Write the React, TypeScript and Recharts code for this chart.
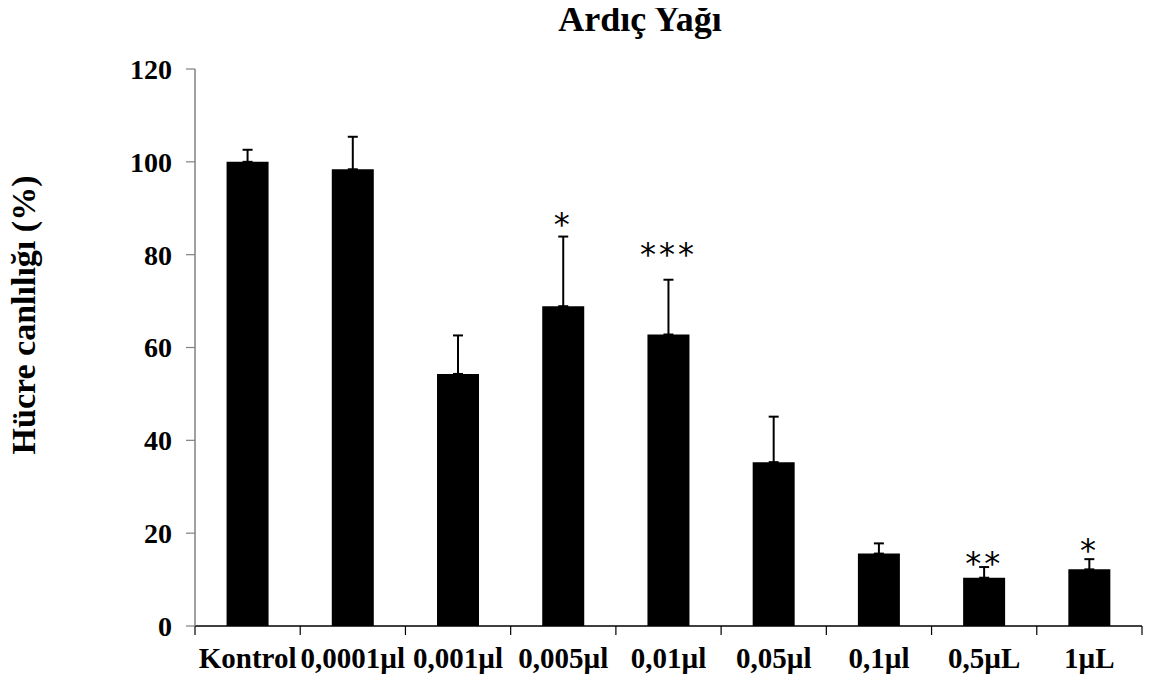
import React from 'react';
import { ComposedChart, Bar, XAxis, YAxis, ErrorBar, Scatter } from 'recharts';

// Dose groups, mean viability (%) and upper SD
const doses = ['Kontrol', '0,0001µl', '0,001µl', '0,005µl', '0,01µl', '0,05µl', '0,1µl', '0,5µL', '1µL'];
const viability = [100, 98.4, 54.3, 68.9, 62.8, 35.3, 15.6, 10.4, 12.2];
const sd = [2.6, 7.0, 8.3, 15.0, 11.8, 9.8, 2.2, 2.3, 2.2];
// Significance marks and the level they are printed at
const marks = ['', '', '', '*', '***', '', '', '**', '*'];
const markLevel = [null, null, null, 88.2, 81.7, null, null, 15.1, 17.9];
const yTicks = [0, 20, 40, 60, 80, 100, 120];
const edgeTicks = [0, 1, 2, 3, 4, 5, 6, 7, 8, 9];

const rows = doses.map((dose, i) => ({
  dose,
  value: viability[i],
  err: [0, sd[i]],
  pos: i + 0.5,
  mark: marks[i],
  level: markLevel[i],
}));
const markRows = rows.filter((r) => r.mark !== '');

const SERIF = '"Liberation Serif", "Times New Roman", serif';
const W = 1143;
const H = 674;

const DoseTick = (props: any) => (
  <text
    x={props.x}
    y={props.y + 41}
    textAnchor="middle"
    fontFamily={SERIF}
    fontWeight="bold"
    fontSize={29}
    fill="#000"
  >
    {props.payload.value}
  </text>
);

const NoLabel = () => <g />;

const STAR_SIZE = 32;
const StarMark = (props: any) => {
  const { cx, cy, payload } = props;
  if (cx == null || cy == null) return null;
  return (
    <text
      x={cx}
      y={cy + STAR_SIZE * 0.56}
      textAnchor="middle"
      fontFamily='"DejaVu Sans", sans-serif'
      fontSize={STAR_SIZE}
      letterSpacing={3}
      fill="#000"
    >
      {payload.mark}
    </text>
  );
};

export default function App() {
  return (
    <div style={{ position: 'relative', width: W, height: H }}>
      <ComposedChart
        width={W}
        height={H}
        data={rows}
        margin={{ top: 61, right: 9, bottom: 0, left: 0 }}
        barCategoryGap="30%"
      >
        <XAxis
          xAxisId="axisA"
          type="number"
          dataKey="pos"
          domain={[0, 9]}
          ticks={edgeTicks}
          interval={0}
          height={1}
          tick={<NoLabel />}
          tickSize={9}
          stroke="#000"
          axisLine={{ stroke: '#000', strokeWidth: 1.5 }}
          tickLine={{ stroke: '#000', strokeWidth: 1.2 }}
        />
        <XAxis
          xAxisId="axisB"
          dataKey="dose"
          type="category"
          height={55}
          axisLine={false}
          tickLine={false}
          tickSize={0}
          tickMargin={0}
          interval={0}
          tick={<DoseTick />}
        />
        <YAxis
          domain={[0, 120]}
          ticks={yTicks}
          interval={0}
          width={187}
          tickSize={9}
          tickMargin={14}
          axisLine={{ stroke: '#808080', strokeWidth: 1.5 }}
          tickLine={{ stroke: '#808080', strokeWidth: 1.2 }}
          tick={{ fill: '#000', fontFamily: SERIF, fontWeight: 'bold', fontSize: 28 }}
        />
        <Bar xAxisId="axisB" dataKey="value" fill="#000" isAnimationActive={false}>
          <ErrorBar dataKey="err" direction="y" width={5} stroke="#000" strokeWidth={2} />
        </Bar>
        <Scatter
          xAxisId="axisA"
          data={markRows}
          dataKey="level"
          shape={<StarMark />}
          isAnimationActive={false}
        />
      </ComposedChart>
      <svg
        width={W + 8}
        height={H + 8}
        style={{ position: 'absolute', left: -8, top: -8, pointerEvents: 'none', overflow: 'visible' }}
      >
        <text
          x={640}
          y={31}
          textAnchor="middle"
          fontFamily={SERIF}
          fontWeight="bold"
          fontSize={36}
          fill="#000"
        >
          Ardıç Yağı
        </text>
        <text
          transform="translate(35, 315) rotate(-90)"
          textAnchor="middle"
          fontFamily={SERIF}
          fontWeight="bold"
          fontSize={34}
          fill="#000"
        >
          Hücre canlılığı (%)
        </text>
      </svg>
    </div>
  );
}
